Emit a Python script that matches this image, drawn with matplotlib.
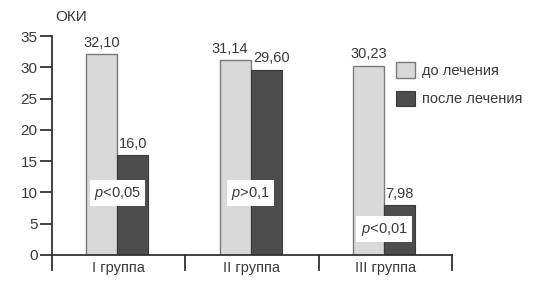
import matplotlib
matplotlib.use("Agg")
import matplotlib.pyplot as plt
import numpy as np

groups = ["I группа", "II группа", "III группа"]
before = [32.10, 31.14, 30.23]
after = [16.0, 29.60, 7.98]
before_labels = ["32,10", "31,14", "30,23"]
after_labels = ["16,0", "29,60", "7,98"]
p_texts = ["<0,05", ">0,1", "<0,01"]
p_y = [9.9, 9.9, 4.15]
series_names = ["до лечения", "после лечения"]
yticks = [0, 5, 10, 15, 20, 25, 30, 35]

# small horizontal nudges of value labels (axis units) to avoid overlap
before_dx = [0.0, -0.04, 0.0]
after_dx = [0.0, 0.04, 0.0]

plt.rcParams['font.family'] = ['Liberation Sans', 'DejaVu Sans']
plt.rcParams['mathtext.fontset'] = 'custom'
plt.rcParams['mathtext.it'] = 'Liberation Sans:italic'
plt.rcParams['mathtext.rm'] = 'Liberation Sans'

txt = '#3a3a3a'
light = '#d9d9d9'
dark = '#4d4d4d'
fs = 10.5

fig = plt.figure(figsize=(5.33, 2.83), dpi=100)
ax = fig.add_axes([52/533, 28/283, 400/533, 219/283])

x = np.arange(len(groups)) + 0.5
w = 0.233
ax.bar(x - 0.01 - w/2, before, w, color=light, edgecolor='#7a7a7a', linewidth=1.0, label=series_names[0])
ax.bar(x - 0.01 + w/2, after, w, color=dark, edgecolor='#3a3a3a', linewidth=0.8, label=series_names[1])

for xi, v, s, dx in zip(x - 0.01 - w/2, before, before_labels, before_dx):
    ax.text(xi + dx, v + 0.7, s, ha='center', va='bottom', fontsize=fs, color=txt)
for xi, v, s, dx in zip(x - 0.01 + w/2, after, after_labels, after_dx):
    ax.text(xi + dx, v + 0.7, s, ha='center', va='bottom', fontsize=fs, color=txt)

for xi, yv, s in zip(x - 0.01, p_y, p_texts):
    ax.text(xi, yv, r"$p$" + s, ha='center', va='center', fontsize=fs, color=txt,
            bbox=dict(boxstyle='square,pad=0.3', facecolor='white', edgecolor='none'))

ax.set_xlim(0, 3)
ax.set_ylim(0, 35)
ax.set_yticks(yticks)
ax.set_xticks(x)
ax.set_xticklabels(groups)
ax.tick_params(axis='x', length=0, pad=4, labelsize=fs, labelcolor=txt)
ax.tick_params(axis='y', length=8.5, width=1.3, color='#333333', pad=2, labelsize=11, labelcolor=txt)
for s in ['top', 'right']:
    ax.spines[s].set_visible(False)
for s in ['left', 'bottom']:
    ax.spines[s].set_color('#333333')
    ax.spines[s].set_linewidth(1.3)

for xd in [0, 1, 2, 3]:
    ax.plot([xd, xd], [0, -2.4], color='#333333', linewidth=1.3, clip_on=False)

ax.text(0.008, 1.087, "ОКИ", transform=ax.transAxes, ha='left', va='center', fontsize=11, color=txt)

ax.legend(loc='upper left', bbox_to_anchor=(0.86, 0.88), frameon=False, fontsize=fs,
          handlelength=1.3, handleheight=1.3, labelspacing=0.85, handletextpad=0.45,
          borderaxespad=0, borderpad=0, labelcolor=txt)

fig.savefig("out.png", dpi=100)
